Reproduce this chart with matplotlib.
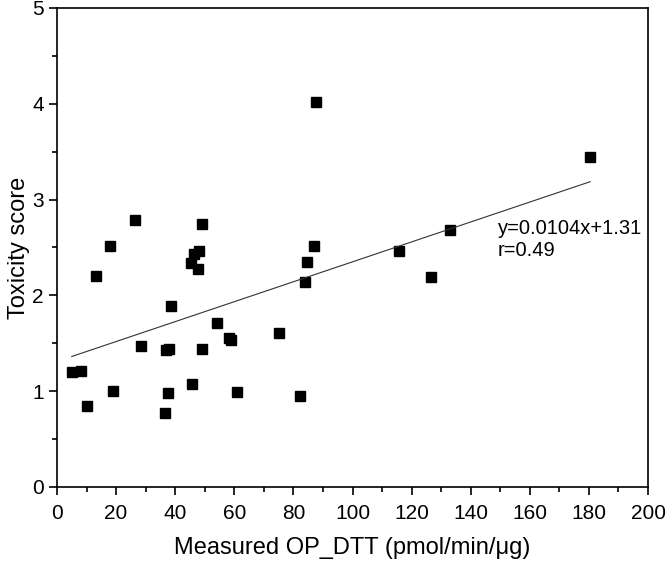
import numpy as np
import matplotlib
matplotlib.use("Agg")
import matplotlib.pyplot as plt
from matplotlib.ticker import MultipleLocator

plt.rcParams['font.family'] = ['Liberation Sans', 'DejaVu Sans']

# measured OP_DTT vs toxicity score
op_dtt = [5.0, 8.0, 10.3, 13.2, 17.9, 19.1, 26.4, 28.4, 36.7, 36.8, 37.7, 38.0,
          38.6, 45.2, 45.7, 46.4, 47.6, 48.1, 49.2, 49.2, 54.1, 58.2, 58.8, 60.9,
          75.0, 82.2, 84.0, 84.6, 87.0, 87.5, 115.7, 126.4, 132.9, 180.4]
tox_score = [1.20, 1.21, 0.85, 2.20, 2.51, 1.00, 2.79, 1.47, 0.77, 1.43, 0.98, 1.44,
             1.89, 2.34, 1.08, 2.43, 2.27, 2.46, 2.74, 1.44, 1.71, 1.56, 1.53, 0.99,
             1.61, 0.95, 2.14, 2.35, 2.51, 4.02, 2.46, 2.19, 2.68, 3.44]

slope, intercept = 0.0104, 1.31
fit_text = "y=0.0104x+1.31\nr=0.49"

fig = plt.figure(figsize=(6.66, 5.66), dpi=100)
ax = fig.add_axes([0.0856, 0.1396, 0.8874, 0.8464])

ax.plot(op_dtt, tox_score, 's', color='black', markersize=7.5, ls='none')
xf = np.array([min(op_dtt), max(op_dtt)])
ax.plot(xf, slope * xf + intercept, color='#333333', lw=0.8)
ax.text(149.2, 2.58, fit_text, fontsize=14.5, va='center', ha='left', linespacing=1.2)

ax.set_xlim(0, 200)
ax.set_ylim(0, 5)
ax.xaxis.set_major_locator(MultipleLocator(20))
ax.xaxis.set_minor_locator(MultipleLocator(10))
ax.yaxis.set_major_locator(MultipleLocator(1))
ax.yaxis.set_minor_locator(MultipleLocator(0.5))
ax.tick_params(which='major', direction='out', length=6, width=1.2, labelsize=15)
ax.tick_params(axis='x', which='major', pad=6)
ax.tick_params(which='minor', direction='out', length=3.5, width=1.2)
for sp in ax.spines.values():
    sp.set_linewidth(1.2)

ax.set_xlabel("Measured OP_DTT (pmol/min/\u03bcg)", fontsize=17, labelpad=10)
ax.set_ylabel("Toxicity score", fontsize=17)
ax.yaxis.set_label_coords(-0.045, 0.5)

fig.savefig("out.png", dpi=100)
